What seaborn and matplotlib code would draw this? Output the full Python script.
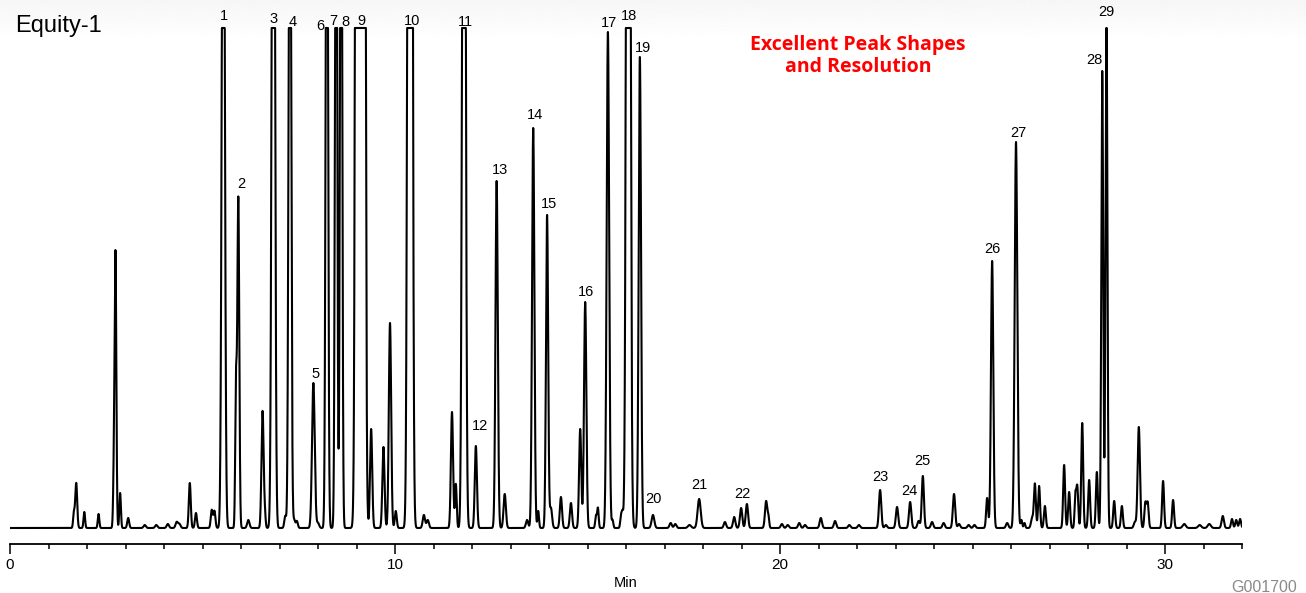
import matplotlib
matplotlib.use("Agg")
import matplotlib.pyplot as plt
import numpy as np
import seaborn as sns
from matplotlib.ticker import MultipleLocator

# peak table
# retention time (min), height (detector units, 500 = full scale), sigma (min)
peak_time = [
    1.66, 1.72, 1.93, 2.30, 2.70, 2.74, 2.86, 3.07, 3.50, 3.80, 4.10, 4.33, 4.40,
    4.67, 4.83, 5.24, 5.31, 5.54, 5.87, 5.93, 6.19, 6.56, 6.62, 6.84, 7.15, 7.27,
    7.38, 7.45, 7.88, 8.00, 8.23, 8.47, 8.60, 9.10, 9.38, 9.70, 9.87, 10.02, 10.39,
    10.75, 10.85, 11.48, 11.58, 11.79, 12.10, 12.64, 12.85, 13.43, 13.59, 13.72,
    13.95, 14.05, 14.31, 14.57, 14.81, 14.94, 15.22, 15.27, 15.53, 15.65, 15.87,
    15.91, 16.06, 16.36, 16.70, 17.16, 17.28, 17.65, 17.90, 18.57, 18.81, 18.99,
    19.14, 19.64, 19.70, 20.05, 20.20, 20.50, 20.65, 21.06, 21.43, 21.80, 22.05,
    22.60, 22.75, 23.04, 23.38, 23.60, 23.71, 23.95, 24.25, 24.52, 24.65, 24.90,
    25.05, 25.38, 25.51, 25.90, 26.13, 26.27, 26.35, 26.55, 26.62, 26.73, 26.88,
    27.38, 27.51, 27.67, 27.72, 27.85, 28.03, 28.23, 28.37, 28.48, 28.68, 28.88,
    29.22, 29.32, 29.49, 29.55, 29.95, 30.21, 30.50, 30.90, 31.15, 31.50, 31.74,
    31.85, 31.95,
]
peak_height = [
    15, 45, 16, 14, 55, 270, 35, 10, 3, 3, 4, 6, 4,
    45, 15, 18, 17, 900, 140, 330, 8, 117, 12, 1200, 12, 900,
    8, 7, 145, 5, 900, 900, 900, 33000, 99, 81, 205, 17, 3350,
    13, 8, 116, 44, 1400, 82, 347, 34, 8, 400, 17,
    313, 20, 31, 25, 99, 226, 12, 20, 496, 8, 12,
    15, 2000, 471, 13, 5, 4, 3, 29, 6, 11, 20,
    24, 27, 10, 4, 3, 5, 3, 10, 7, 3, 3,
    38, 3, 21, 26, 7, 52, 6, 5, 34, 4, 3,
    3, 30, 267, 5, 386, 8, 5, 10, 44, 42, 22,
    63, 36, 30, 42, 105, 48, 56, 457, 520, 27, 22,
    6, 101, 25, 25, 47, 28, 4, 3, 4, 12, 9,
    8, 9,
]
peak_sigma = [
    0.02, 0.025, 0.02, 0.02, 0.02, 0.022, 0.02, 0.025, 0.03, 0.03, 0.03, 0.03, 0.03,
    0.025, 0.025, 0.025, 0.025, 0.035, 0.02, 0.025, 0.03, 0.028, 0.02, 0.035, 0.025, 0.03,
    0.025, 0.025, 0.035, 0.03, 0.028, 0.026, 0.026, 0.05, 0.028, 0.028, 0.03, 0.025, 0.04,
    0.03, 0.03, 0.028, 0.022, 0.036, 0.028, 0.03, 0.03, 0.03, 0.03, 0.02,
    0.028, 0.03, 0.028, 0.028, 0.028, 0.03, 0.02, 0.02, 0.032, 0.02, 0.02,
    0.02, 0.04, 0.03, 0.035, 0.03, 0.03, 0.04, 0.04, 0.03, 0.03, 0.03,
    0.03, 0.03, 0.02, 0.03, 0.03, 0.03, 0.03, 0.03, 0.03, 0.03, 0.03,
    0.03, 0.03, 0.03, 0.03, 0.03, 0.028, 0.03, 0.03, 0.03, 0.03, 0.03,
    0.03, 0.025, 0.03, 0.03, 0.034, 0.02, 0.02, 0.03, 0.025, 0.025, 0.025,
    0.025, 0.025, 0.02, 0.025, 0.025, 0.025, 0.025, 0.024, 0.024, 0.025, 0.025,
    0.03, 0.03, 0.025, 0.025, 0.025, 0.025, 0.04, 0.04, 0.04, 0.03, 0.025,
    0.025, 0.025,
]

# numbered compounds and the retention time of the peak each number sits on
label_text = [str(i) for i in range(1, 30)]
label_time = [
    5.54, 5.93, 6.84, 7.27, 7.88, 8.23, 8.47, 8.60, 9.10, 10.39,
    11.79, 12.10, 12.64, 13.59, 13.95, 14.94, 15.53, 16.06, 16.36, 16.70,
    17.90, 19.14, 22.60, 23.38, 23.71, 25.51, 26.13, 28.37, 28.48,
]

FULL_SCALE = 500
RUN_END = 32.0

# label nudges in pixels (dx right, dy up from the apex to the text centre)
label_dx = [1, 3, 0, 3, 2, -7, -3, 4, 1, 2, 2, 4, 3, 2, 2, 1, 1, 1, 3, 0,
            0, -5, 0, -1, 0, 0, 2, -8, 0]
label_dy = [12, 12, 9, 6, 9, 2, 7, 6, 7, 7, 6, 20, 11, 13, 11, 10, 9, 12, 9, 16,
            14, 10, 13, 11, 15, 12, 9, 11, 16]

W, H = 1306, 593

sns.set_style("white")
plt.rcParams["font.family"] = ["Liberation Sans", "DejaVu Sans"]
plt.rcParams["text.color"] = "black"
plt.rcParams["axes.labelcolor"] = "black"
plt.rcParams["xtick.color"] = "black"

t = np.arange(0.0, RUN_END + 1e-9, 0.002)
signal = np.zeros_like(t)
for t0, h, s in zip(peak_time, peak_height, peak_sigma):
    signal += h * np.exp(-0.5 * ((t - t0) / s) ** 2)
# detector output saturates at full scale
signal = np.minimum(signal, FULL_SCALE)

fig = plt.figure(figsize=(W / 100, H / 100), dpi=100)

# faint grey fade at the top of the page
bg = fig.add_axes([0, 0, 1, 1], zorder=-1)
grad = np.linspace(0.965, 1.0, 60)[:, None]
bg.imshow(grad, cmap="gray", vmin=0, vmax=1, aspect="auto",
          extent=[0, 1, 1 - 40 / H, 1])
bg.set_xlim(0, 1)
bg.set_ylim(0, 1)
bg.axis("off")

ax = fig.add_axes([10 / W, (H - 543.5) / H, 1232 / W, 543.5 / H])
ax.patch.set_alpha(0)
sns.lineplot(x=t, y=signal, ax=ax, color="black", linewidth=1.5,
             estimator=None, sort=False)
ax.set_xlim(0, RUN_END)
ax.set_ylim(-15.5, 528)

for name, lt, dx, dy in zip(label_text, label_time, label_dx, label_dy):
    i = int(np.argmin(np.abs(t - lt)))
    ax.annotate(name, xy=(t[i], signal[i]), xytext=(dx * 0.72, dy * 0.72),
                textcoords="offset points", ha="center", va="center",
                fontsize=10.5, color="black")

for side in ["left", "top", "right"]:
    ax.spines[side].set_visible(False)
ax.spines["bottom"].set_linewidth(1.3)
ax.spines["bottom"].set_color("black")
ax.set_yticks([])
ax.xaxis.set_major_locator(MultipleLocator(10))
ax.xaxis.set_minor_locator(MultipleLocator(1))
ax.tick_params(axis="x", which="major", direction="out", length=7.2, width=1.1,
               labelsize=11, pad=3, bottom=True, colors="black")
ax.tick_params(axis="x", which="minor", direction="out", length=3.6, width=1.1,
               bottom=True, colors="black")
ax.set_xlabel("Min", fontsize=10.5, labelpad=3, color="black")
ax.set_ylabel("")

fig.text(15 / W, 1 - 26 / H, "Equity-1", fontsize=17, ha="left", va="center",
         color="black")
fig.text(858 / W, 1 - 56 / H, "Excellent Peak Shapes\nand Resolution",
         color="#ff0000", fontsize=14, fontweight="bold", family="Open Sans",
         ha="center", va="center", linespacing=1.15)
fig.text(1297 / W, 1.5 / H, "G001700", color="#8a8a8a", fontsize=11.5,
         ha="right", va="baseline")

fig.savefig("out.png", dpi=100)
